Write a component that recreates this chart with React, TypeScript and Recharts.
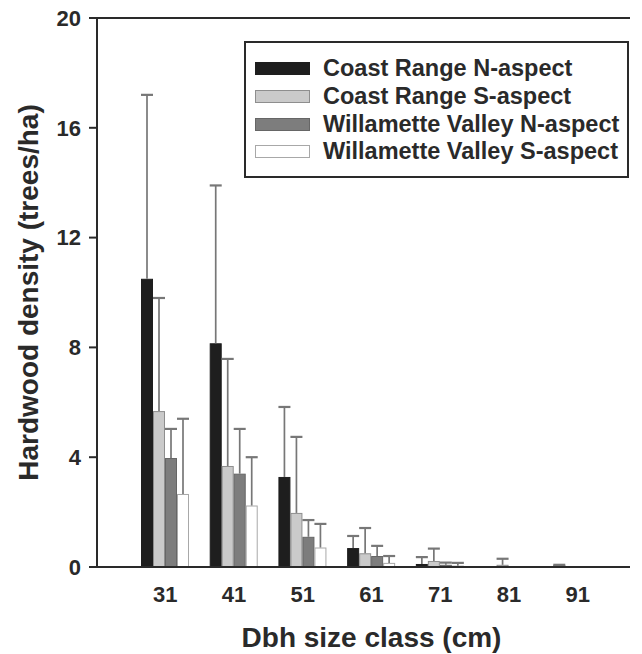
import { BarChart, Bar, XAxis, YAxis, Legend, ReferenceLine, Label } from "recharts"

// Dbh size classes (cm)
const categories = ["31", "41", "51", "61", "71", "81", "91"]

const seriesNames = [
  "Coast Range N-aspect",
  "Coast Range S-aspect",
  "Willamette Valley N-aspect",
  "Willamette Valley S-aspect",
]

// mean hardwood density (trees/ha) and the upper error (SE)
const coastN = [10.5, 8.15, 3.28, 0.69, 0.11, 0, 0.06]
const coastNErr = [6.7, 5.75, 2.55, 0.44, 0.25, 0, 0.02]
const coastS = [5.68, 3.68, 1.97, 0.5, 0.22, 0.08, 0]
const coastSErr = [4.12, 3.9, 2.77, 0.92, 0.45, 0.22, 0]
const valleyN = [3.97, 3.4, 1.1, 0.4, 0.08, 0, 0]
const valleyNErr = [1.06, 1.63, 0.61, 0.37, 0.08, 0, 0]
const valleyS = [2.66, 2.24, 0.71, 0.15, 0.05, 0, 0]
const valleySErr = [2.74, 1.76, 0.86, 0.25, 0.1, 0, 0]

const yTicks = [0, 4, 8, 12, 16, 20]
const Y_MAX = yTicks[yTicks.length - 1]

const data = categories.map((size, i) => ({
  size,
  coastN: coastN[i],
  coastNErr: coastNErr[i],
  coastS: coastS[i],
  coastSErr: coastSErr[i],
  valleyN: valleyN[i],
  valleyNErr: valleyNErr[i],
  valleyS: valleyS[i],
  valleySErr: valleySErr[i],
}))

const SERIES = [
  { key: "coastN", errKey: "coastNErr", fill: "#1e1e1e", stroke: "#1e1e1e" },
  { key: "coastS", errKey: "coastSErr", fill: "#cacaca", stroke: "#8e8e8e" },
  { key: "valleyN", errKey: "valleyNErr", fill: "#7d7d7d", stroke: "#666666" },
  { key: "valleyS", errKey: "valleySErr", fill: "#ffffff", stroke: "#a8a8a8" },
]

const FONT = "'Liberation Sans', Arial, sans-serif"
const INK = "#2a2a2a"
const ERR = "#777777"
const PAD_LEFT = 34
const PAD_RIGHT = 18

// bar with a one-sided (upper) error bar on top
const makeShape = (errKey: string, fill: string, stroke: string) => (props: any) => {
  const { x, y, width, height, payload, background, value } = props
  const err = payload?.[errKey] ?? 0
  const v = Array.isArray(value) ? value[1] - value[0] : value
  const scale = background && background.height ? background.height / Y_MAX : v ? height / v : 0
  const cx = x + width / 2
  const top = y - err * scale
  return (
    <g>
      {height > 0 && (
        <rect x={x + 0.5} y={y + 0.5} width={width - 1} height={Math.max(height - 0.5, 0.8)} fill={fill} stroke={stroke} strokeWidth={1} />
      )}
      {err > 0 && (
        <g stroke={ERR} strokeWidth={1.7}>
          <line x1={cx} x2={cx} y1={y} y2={top} />
          <line x1={cx - 6} x2={cx + 6} y1={top} y2={top} strokeWidth={2.2} />
        </g>
      )}
    </g>
  )
}

const LegendBox = () => (
  <div
    style={{
      width: 385,
      height: 137,
      boxSizing: "border-box",
      border: `2px solid ${INK}`,
      background: "#fff",
      paddingTop: 12,
      fontFamily: FONT,
      fontWeight: "bold",
      fontSize: 23.5,
      color: INK,
    }}
  >
    {SERIES.map((s, i) => (
      <div key={s.key} style={{ display: "flex", alignItems: "center", height: 27.7, whiteSpace: "nowrap" }}>
        <span
          style={{
            display: "inline-block",
            width: 55,
            height: 13,
            marginLeft: 9,
            marginRight: 13,
            boxSizing: "border-box",
            background: s.fill,
            border: `1px solid ${s.stroke}`,
          }}
        />
        <span>{seriesNames[i]}</span>
      </div>
    ))}
  </div>
)

export default function App() {
  return (
    <div style={{ position: "absolute", left: 0, top: 0, width: 642, height: 654, background: "#fff" }}>
      <BarChart
        width={642}
        height={654}
        data={data}
        margin={{ top: 18, right: 12, bottom: 0, left: 0 }}
        barSize={12}
        barGap={0}
      >
        <XAxis
          dataKey="size"
          height={87}
          padding={{ left: PAD_LEFT, right: PAD_RIGHT }}
          axisLine={{ stroke: INK, strokeWidth: 2 }}
          tickLine={false}
          tickSize={0}
          tickMargin={19}
          tick={{ fill: INK, fontFamily: FONT, fontWeight: "bold", fontSize: 22 }}
        >
          <Label
            content={({ viewBox }: any) => {
              const cx = viewBox.x + PAD_LEFT + (viewBox.width - PAD_LEFT - PAD_RIGHT) / 2
              return (
                <text x={cx} y={647} textAnchor="middle" fill={INK} fontFamily={FONT} fontWeight="bold" fontSize={28}>
                  Dbh size class (cm)
                </text>
              )
            }}
          />
        </XAxis>
        <YAxis
          width={97}
          domain={[0, Y_MAX]}
          ticks={yTicks}
          allowDataOverflow
          axisLine={{ stroke: INK, strokeWidth: 2 }}
          tickLine={{ stroke: INK, strokeWidth: 2 }}
          tickSize={8}
          tickMargin={8}
          tick={{ fill: INK, fontFamily: FONT, fontWeight: "bold", fontSize: 22 }}
        >
          <Label
            content={({ viewBox }: any) => {
              const cy = viewBox.y + viewBox.height / 2
              return (
                <text
                  x={28}
                  y={cy}
                  transform={`rotate(-90, 28, ${cy})`}
                  textAnchor="middle"
                  dominantBaseline="central"
                  fill={INK}
                  fontFamily={FONT}
                  fontWeight="bold"
                  fontSize={28}
                >
                  Hardwood density (trees/ha)
                </text>
              )
            }}
          />
        </YAxis>
        <ReferenceLine y={Y_MAX} stroke={INK} strokeWidth={2} />
        {SERIES.map((s, i) => (
          <Bar
            key={s.key}
            dataKey={s.key}
            name={seriesNames[i]}
            fill={s.fill}
            isAnimationActive={false}
            shape={makeShape(s.errKey, s.fill, s.stroke)}
          />
        ))}
        <Legend
          layout="vertical"
          align="center"
          verticalAlign="middle"
          wrapperStyle={{ left: 244, top: 41, width: 385 }}
          content={() => <LegendBox />}
        />
      </BarChart>
    </div>
  )
}
